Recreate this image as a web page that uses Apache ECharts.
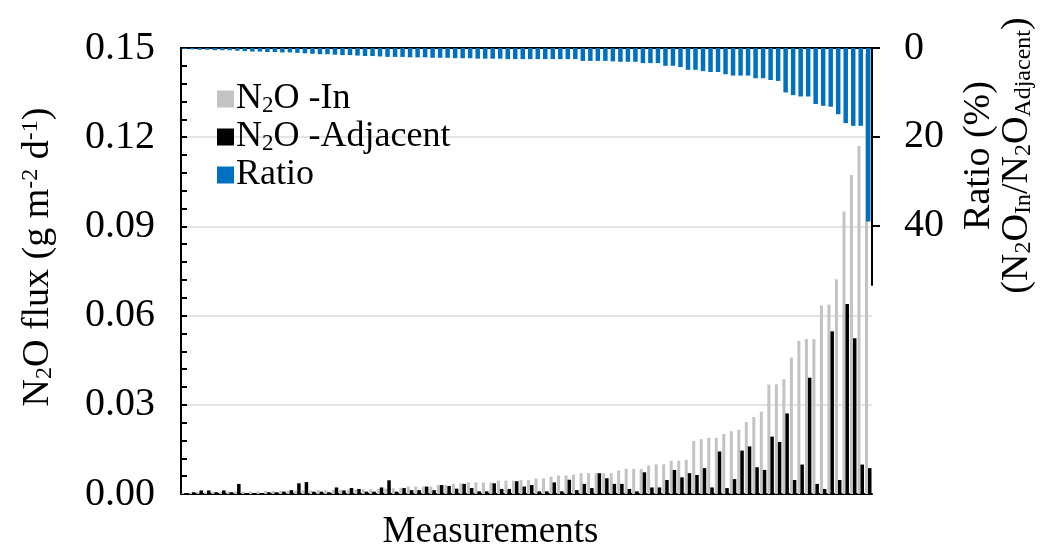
<!DOCTYPE html>
<html>
<head>
    <meta charset="utf-8">
    <title>N2O flux</title>
    <script src="https://cdn.jsdelivr.net/npm/echarts@6/dist/echarts.min.js"></script>
    <style>
        html, body { margin: 0; padding: 0; background: #fff; }
        #chart { width: 1043px; height: 547px; }
    </style>
</head>
<body>
    <div id="chart"></div>
    <script type="text/javascript">

        // flux values (g m-2 d-1), sorted by the "In" flux
        var fluxIn = [
            0.0004, 0.0005, 0.0006, 0.0006, 0.0007, 0.0007, 0.0008, 0.0008, 0.0008, 0.0009,
            0.0009, 0.0010, 0.0010, 0.0010, 0.0011, 0.0011, 0.0012, 0.0012, 0.0013, 0.0013,
            0.0014, 0.0014, 0.0015, 0.0015, 0.0016, 0.0016, 0.0017, 0.0018, 0.0019, 0.0021,
            0.0025, 0.0025, 0.0025, 0.0025, 0.0030, 0.0030, 0.0034, 0.0036, 0.0039, 0.0039,
            0.0039, 0.0039, 0.0045, 0.0045, 0.0045, 0.0047, 0.0047, 0.0052, 0.0052, 0.0058,
            0.0062, 0.0062, 0.0065, 0.0070, 0.0070, 0.0070, 0.0070, 0.0070, 0.0079, 0.0085,
            0.0084, 0.0084, 0.0096, 0.0100, 0.0100, 0.0112, 0.0112, 0.0115, 0.0178, 0.0184,
            0.0189, 0.0189, 0.0202, 0.0211, 0.0216, 0.0242, 0.0259, 0.0277, 0.0368, 0.0369,
            0.0386, 0.0459, 0.0515, 0.0521, 0.0521, 0.0634, 0.0637, 0.0722, 0.0950, 0.1073,
            0.1170, 0.1480
        ];
        var fluxAdjacent = [
            0.0003, 0.0006, 0.0012, 0.0012, 0.0006, 0.0012, 0.0006, 0.0034, 0.0003, 0.0003,
            0.0003, 0.0006, 0.0006, 0.0008, 0.0013, 0.0036, 0.0040, 0.0008, 0.0008, 0.0006,
            0.0022, 0.0012, 0.0020, 0.0017, 0.0008, 0.0008, 0.0022, 0.0046, 0.0008, 0.0020,
            0.0013, 0.0013, 0.0025, 0.0013, 0.0030, 0.0027, 0.0018, 0.0034, 0.0020, 0.0009,
            0.0009, 0.0036, 0.0017, 0.0017, 0.0043, 0.0025, 0.0030, 0.0009, 0.0009, 0.0039,
            0.0009, 0.0048, 0.0013, 0.0034, 0.0020, 0.0070, 0.0053, 0.0034, 0.0034, 0.0017,
            0.0009, 0.0073, 0.0022, 0.0022, 0.0047, 0.0081, 0.0056, 0.0070, 0.0064, 0.0087,
            0.0022, 0.0143, 0.0020, 0.0050, 0.0146, 0.0160, 0.0090, 0.0081, 0.0193, 0.0175,
            0.0271, 0.0047, 0.0099, 0.0391, 0.0034, 0.0017, 0.0547, 0.0047, 0.0639, 0.0524,
            0.0099, 0.0087
        ];
        // ratio (%), drawn on the inverted right axis
        var ratio = [
            0.2, 0.3, 0.4, 0.4, 0.5, 0.5, 0.5, 0.6, 0.7, 0.8,
            0.8, 0.9, 0.9, 1.0, 1.0, 1.1, 1.2, 1.3, 1.4, 1.4,
            1.5, 1.6, 1.6, 1.7, 1.8, 1.8, 1.9, 2.0, 2.0, 2.0,
            2.1, 2.1, 2.1, 2.2, 2.2, 2.2, 2.3, 2.3, 2.3, 2.4,
            2.4, 2.4, 2.4, 2.5, 2.5, 2.5, 2.5, 2.5, 2.5, 2.5,
            2.5, 2.5, 2.5, 2.9, 2.9, 2.9, 2.9, 3.0, 3.1, 3.1,
            3.1, 3.4, 3.4, 3.4, 4.0, 4.0, 4.3, 4.9, 4.9, 5.2,
            5.4, 5.4, 5.9, 6.2, 6.2, 6.2, 6.8, 6.8, 7.2, 7.4,
            10.0, 10.6, 10.9, 10.9, 12.6, 13.0, 13.2, 14.9, 16.9, 17.5,
            17.5, 39.0
        ];
        var measurements = fluxIn.map(function(v, i) { return 'M' + (i + 1); });

        var serif = 'Liberation Serif';
        var rich = {
            n: { fontFamily: serif, fontSize: 38, color: '#000' },
            sub: { fontFamily: serif, fontSize: 24, color: '#000', verticalAlign: 'bottom' },
            sup: { fontFamily: serif, fontSize: 24, color: '#000', verticalAlign: 'top' }
        };
        var legendRich = {
            n: { fontFamily: serif, fontSize: 36, color: '#000' },
            sub: { fontFamily: serif, fontSize: 23, color: '#000', verticalAlign: 'bottom' }
        };
        var legendText = {
            'In': '{n|N}{sub|2}{n|O -In}',
            'Adjacent': '{n|N}{sub|2}{n|O -Adjacent}',
            'Ratio': '{n|Ratio}'
        };

        var chartContainer = document.getElementById('chart');
        var myChart = echarts.init(chartContainer);

        var option = {
            animation: false,
            backgroundColor: '#fff',
            legend: {
                orient: 'vertical',
                left: 212,
                top: 76,
                itemWidth: 17,
                itemHeight: 17,
                itemGap: 2,
                icon: 'rect',
                data: ['In', 'Adjacent', 'Ratio'],
                formatter: function(name) { return legendText[name]; },
                textStyle: { rich: legendRich, padding: [0, 0, 0, -3] }
            },
            grid: [
                { left: 181, right: 171, top: 48, bottom: 53, outerBoundsMode: 'none' },
                { left: 181, right: 171, top: 48, height: 237, outerBoundsMode: 'none' }
            ],
            xAxis: [
                {
                    type: 'category',
                    gridIndex: 0,
                    data: measurements,
                    name: 'Measurements',
                    nameLocation: 'middle',
                    nameGap: 20,
                    nameTextStyle: { fontFamily: serif, fontSize: 37, color: '#000', padding: [0, 72, 0, 0] },
                    axisLine: { lineStyle: { color: '#000', width: 2 } },
                    axisTick: { show: false },
                    axisLabel: { show: false }
                },
                {
                    type: 'category',
                    gridIndex: 1,
                    position: 'top',
                    data: measurements,
                    axisLine: { lineStyle: { color: '#000', width: 2 } },
                    axisTick: { show: false },
                    axisLabel: { show: false }
                }
            ],
            yAxis: [
                {
                    type: 'value',
                    gridIndex: 0,
                    min: 0,
                    max: 0.15,
                    interval: 0.03,
                    name: '{n|N}{sub|2}{n|O flux (g m}{sup|-2}{n| d}{sup|-1}{n|)}',
                    nameLocation: 'middle',
                    nameRotate: 90,
                    nameGap: 124,
                    nameTextStyle: { rich: rich, padding: [0, 0, 0, 28] },
                    axisLine: { show: true, lineStyle: { color: '#000', width: 2 } },
                    axisTick: { show: true, inside: true, length: 6, lineStyle: { color: '#000', width: 2 } },
                    minorTick: { show: true, splitNumber: 5, length: 6, lineStyle: { color: '#000', width: 2 } },
                    axisLabel: {
                        fontFamily: serif,
                        fontSize: 40,
                        color: '#000',
                        margin: 26,
                        formatter: function(v) { return v.toFixed(2); }
                    },
                    splitLine: { lineStyle: { color: '#e4e4e4', width: 2 } }
                },
                {
                    type: 'value',
                    gridIndex: 1,
                    position: 'right',
                    inverse: true,
                    min: 0,
                    max: 53.3,
                    interval: 20,
                    name: '{n|Ratio (%)}\n{n|(N}{sub|2}{n|O}{sub|In}{n|/N}{sub|2}{n|O}{sub|Adjacent}{n|)}',
                    nameLocation: 'middle',
                    nameRotate: 90,
                    nameGap: 88,
                    nameTextStyle: { rich: rich, align: 'center', padding: [0, 0, 0, 22] },
                    axisLine: { show: true, lineStyle: { color: '#000', width: 2 } },
                    axisTick: { show: true, length: 8, lineStyle: { color: '#000', width: 2 } },
                    axisLabel: {
                        fontFamily: serif,
                        fontSize: 40,
                        color: '#000',
                        margin: 32,
                        showMaxLabel: false
                    },
                    splitLine: { show: false }
                }
            ],
            series: [
                {
                    name: 'In',
                    type: 'bar',
                    xAxisIndex: 0,
                    yAxisIndex: 0,
                    data: fluxIn,
                    barWidth: 3,
                    barGap: '0%',
                    itemStyle: { color: '#c3c3c3' },
                    z: 2
                },
                {
                    name: 'Adjacent',
                    type: 'bar',
                    xAxisIndex: 0,
                    yAxisIndex: 0,
                    data: fluxAdjacent,
                    barWidth: 3.5,
                    barGap: '0%',
                    itemStyle: { color: '#000' },
                    z: 3
                },
                {
                    name: 'Ratio',
                    type: 'bar',
                    xAxisIndex: 1,
                    yAxisIndex: 1,
                    data: ratio,
                    barWidth: 4.5,
                    itemStyle: { color: '#0070c0' },
                    z: 5
                }
            ]
        };

        myChart.setOption(option);
    </script>
</body>
</html>
